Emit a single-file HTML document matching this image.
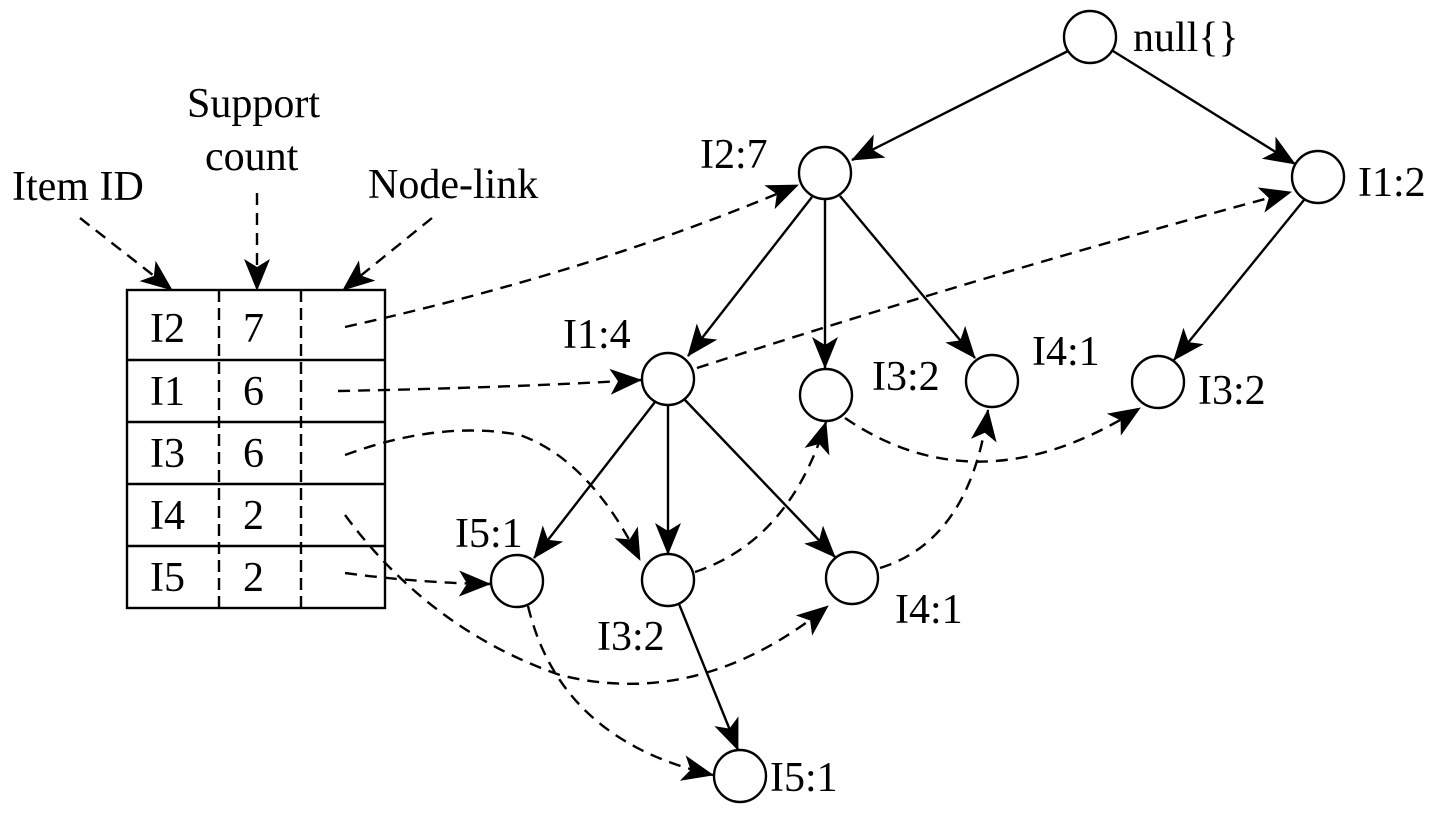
<!DOCTYPE html>
<html><head><meta charset="utf-8"><style>
html,body{margin:0;padding:0;background:#fff;}
svg{display:block;}
text{font-family:"Liberation Serif",serif;font-size:42px;fill:#000;}
</style></head><body>
<svg width="1444" height="816" viewBox="0 0 1444 816" xmlns="http://www.w3.org/2000/svg">
<defs>
<marker id="a" viewBox="0 0 32 26" refX="31" refY="13" markerWidth="32" markerHeight="26" markerUnits="userSpaceOnUse" orient="auto">
<path d="M0,0 L32,13 L0,26 L8,13 Z" fill="#000"/>
</marker>
</defs>
<g fill="none" stroke="#000" stroke-width="2.4">
<rect x="127" y="290" width="258" height="318"/>
<line x1="127" y1="360" x2="385" y2="360"/>
<line x1="127" y1="422" x2="385" y2="422"/>
<line x1="127" y1="484" x2="385" y2="484"/>
<line x1="127" y1="546" x2="385" y2="546"/>
<line x1="219" y1="290" x2="219" y2="608" stroke-dasharray="12,6"/>
<line x1="301" y1="290" x2="301" y2="608" stroke-dasharray="12,6"/>
<circle cx="1090" cy="37" r="26"/>
<circle cx="825" cy="173" r="26"/>
<circle cx="1318" cy="177" r="26"/>
<circle cx="668" cy="379" r="26"/>
<circle cx="826" cy="395" r="26"/>
<circle cx="992" cy="381" r="26"/>
<circle cx="1158" cy="382" r="26"/>
<circle cx="517" cy="581" r="26"/>
<circle cx="668" cy="580" r="26"/>
<circle cx="852" cy="578" r="26"/>
<circle cx="740" cy="776" r="26"/>
<g marker-end="url(#a)">
<line x1="1068" y1="51" x2="852" y2="160"/>
<line x1="1113" y1="51" x2="1295" y2="164"/>
<line x1="812" y1="197" x2="688" y2="356"/>
<line x1="825" y1="200" x2="825" y2="368"/>
<line x1="840" y1="196" x2="975" y2="358"/>
<line x1="1304" y1="200" x2="1174" y2="360"/>
<line x1="655" y1="402" x2="534" y2="558"/>
<line x1="668" y1="405" x2="668" y2="554"/>
<line x1="685" y1="400" x2="835" y2="557"/>
<line x1="679" y1="604" x2="738" y2="750"/>
</g>
<g stroke-dasharray="12,8" marker-end="url(#a)">
<line x1="80" y1="218" x2="172" y2="290"/>
<line x1="257" y1="193" x2="257" y2="290"/>
<line x1="432" y1="218" x2="343" y2="290"/>
<path d="M345,327 Q600,270 798,185"/>
<path d="M338,391 Q500,388 641,380"/>
<path d="M345,455 Q440,420 520,435 Q590,460 640,560"/>
<path d="M345,515 Q430,630 560,675 Q700,710 828,606"/>
<path d="M345,573 Q420,583 490,584"/>
<path d="M697,368 Q1000,270 1291,192"/>
<path d="M528,606 Q560,740 713,775"/>
<path d="M695,572 Q790,540 826,422"/>
<path d="M880,568 Q970,540 988,410"/>
<path d="M845,418 Q980,510 1140,408"/>
</g>
</g>
<text x="1133" y="51">null{}</text>
<text x="700" y="168">I2:7</text>
<text x="1358" y="196">I1:2</text>
<text x="563" y="348">I1:4</text>
<text x="872" y="390">I3:2</text>
<text x="1032" y="365">I4:1</text>
<text x="1198" y="404">I3:2</text>
<text x="455" y="547">I5:1</text>
<text x="597" y="650">I3:2</text>
<text x="895" y="623">I4:1</text>
<text x="770" y="791">I5:1</text>
<text x="12" y="200">Item ID</text>
<text x="187" y="117">Support</text>
<text x="205" y="170">count</text>
<text x="368" y="198">Node-link</text>
<text x="150" y="342">I2</text><text x="243" y="342">7</text>
<text x="150" y="405">I1</text><text x="243" y="405">6</text>
<text x="150" y="467">I3</text><text x="243" y="467">6</text>
<text x="150" y="529">I4</text><text x="243" y="529">2</text>
<text x="150" y="591">I5</text><text x="243" y="591">2</text>
</svg>
</body></html>
